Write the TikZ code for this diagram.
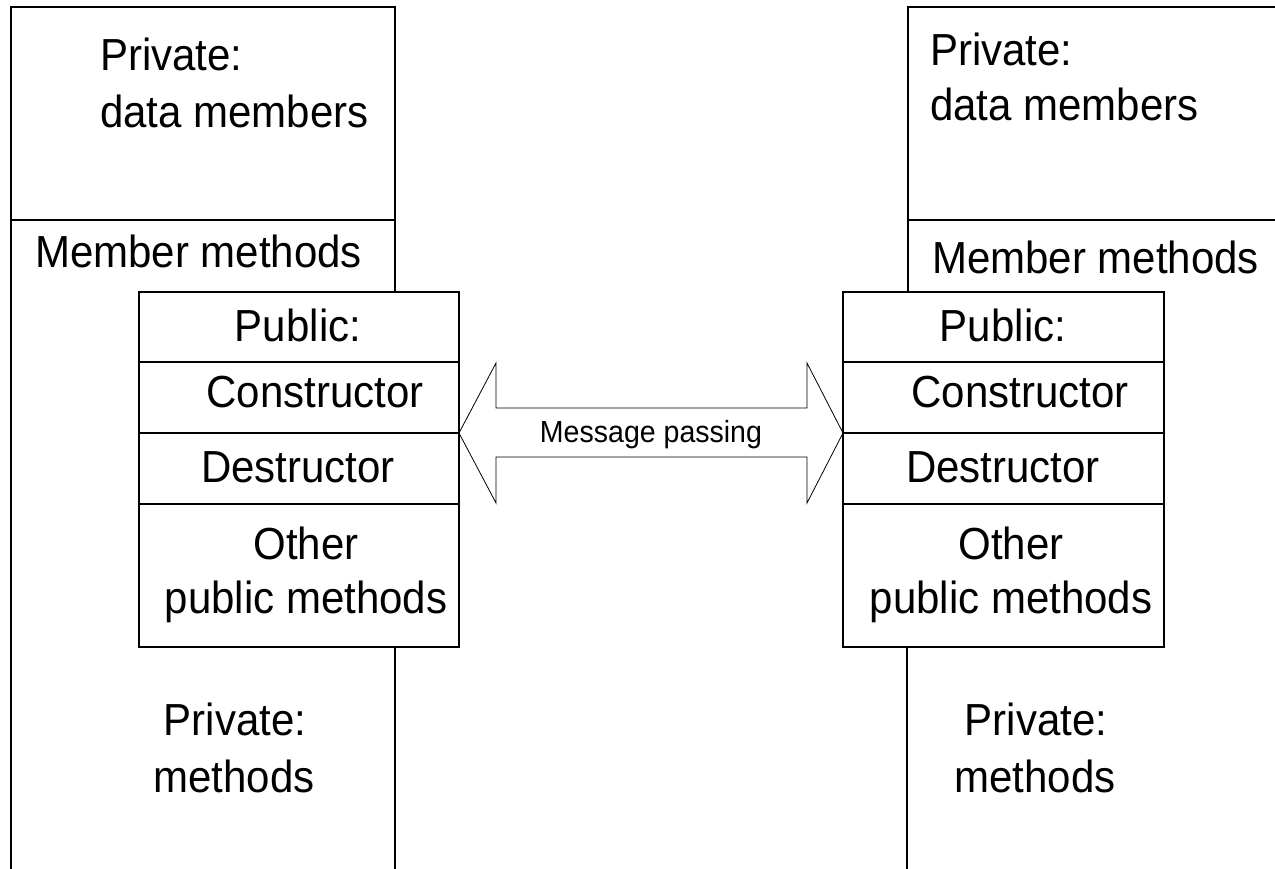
\documentclass[tikz,border=0pt]{standalone}
\usepackage{fontspec}
\usepackage{graphicx}
\setmainfont{Liberation Sans}
\newcommand{\tall}[1]{\scalebox{1}[1.07]{#1}}
\begin{document}
\begin{tikzpicture}[x=0.75pt,y=-0.75pt,
  box/.style={line width=1.5pt,line cap=rect},
  thin/.style={line width=0.6pt,line join=miter},
  big/.style={font=\fontsize{31.5}{36}\selectfont,inner sep=0pt},
  small/.style={font=\fontsize{21.4}{25}\selectfont,inner sep=0pt}]
\useasboundingbox (0,0) rectangle (1275,868);
% left object
\draw[box] (11,868) -- (11,7) -- (395,7) -- (395,292);
\draw[box] (11,220) -- (395,220);
\draw[box] (395,648) -- (395,868);
\draw[box] (139,292) rectangle (459,647);
\draw[box] (139,362) -- (459,362);
\draw[box] (139,433) -- (459,433);
\draw[box] (139,504) -- (459,504);
% right object
\draw[box] (1276,7) -- (908,7) -- (908,292);
\draw[box] (908,220) -- (1276,220);
\draw[box] (907,648) -- (907,868);
\draw[box] (843,292) rectangle (1164,647);
\draw[box] (843,362) -- (1164,362);
\draw[box] (843,433) -- (1164,433);
\draw[box] (843,504) -- (1164,504);
% arrow
\draw[thin] (459,433) -- (496,363) -- (496,408) -- (807,408) -- (807,363) -- (843,433)
  -- (807,503) -- (807,457) -- (496,457) -- (496,503) -- cycle;
\node[small,anchor=base] (msg) at (651,442) {\tall{Message passing}};
% left texts
\node[big,anchor=base west] (lp1) at (100,70) {\tall{Private:}};
\node[big,anchor=base west] (lp2) at (100,127) {\tall{data members}};
\node[big,anchor=base west] (lmm) at (35,267) {\tall{Member methods}};
\node[big,anchor=base] (lpub) at (298,341) {\tall{Public:}};
\node[big,anchor=base] (lcon) at (315,407) {\tall{Constructor}};
\node[big,anchor=base] (ldes) at (298,482) {\tall{Destructor}};
\node[big,anchor=base] (loth) at (306,559) {\tall{Other}};
\node[big,anchor=base] (lpm) at (306,613) {\tall{public methods}};
\node[big,anchor=base] (lpr) at (235,735) {\tall{Private:}};
\node[big,anchor=base] (lme) at (234,792) {\tall{methods}};
% right texts
\node[big,anchor=base west] (rp1) at (930,65) {\tall{Private:}};
\node[big,anchor=base west] (rp2) at (930,120) {\tall{data members}};
\node[big,anchor=base west] (rmm) at (932,273) {\tall{Member methods}};
\node[big,anchor=base] (rpub) at (1003,341) {\tall{Public:}};
\node[big,anchor=base] (rcon) at (1020,407) {\tall{Constructor}};
\node[big,anchor=base] (rdes) at (1003,482) {\tall{Destructor}};
\node[big,anchor=base] (roth) at (1011,559) {\tall{Other}};
\node[big,anchor=base] (rpm) at (1011,613) {\tall{public methods}};
\node[big,anchor=base] (rpr) at (1036,735) {\tall{Private:}};
\node[big,anchor=base] (rme) at (1035,792) {\tall{methods}};
\end{tikzpicture}
\end{document}
